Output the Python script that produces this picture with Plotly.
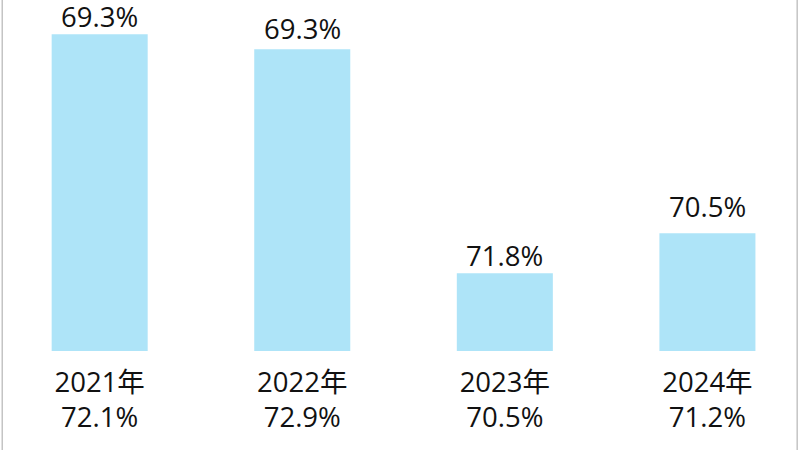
import plotly.graph_objects as go

years = ["2021年", "2022年", "2023年", "2024年"]
bottom_labels = ["72.1%", "72.9%", "70.5%", "71.2%"]
top_labels = ["69.3%", "69.3%", "71.8%", "70.5%"]
bar_heights = [316.7, 301.7, 77.7, 117.7]

# style: vertical pixel offsets of the value labels above each bar
label_shift = [-3, 0, -3, 6]

ticktext = [f"{y}<br>{p}" for y, p in zip(years, bottom_labels)]
xs = list(range(len(years)))

font_family = "Open Sans, Noto Sans CJK SC, sans-serif"

fig = go.Figure(go.Bar(
    x=xs,
    y=bar_heights,
    width=0.474,
    marker=dict(color="#AEE4F8", line=dict(width=0)),
    hoverinfo="skip",
))

annotations = [
    dict(x=x, y=h, xref="x", yref="y", text=t, showarrow=False,
         xanchor="center", yanchor="bottom", yshift=s,
         font=dict(size=27.5, color="#111111", family=font_family))
    for x, h, t, s in zip(xs, bar_heights, top_labels, label_shift)
]

fig.update_layout(
    width=800, height=450,
    margin=dict(l=0, r=0, t=0, b=99),
    paper_bgcolor="white", plot_bgcolor="white",
    showlegend=False,
    annotations=annotations,
    xaxis=dict(
        range=[-0.492, 3.457],
        tickmode="array", tickvals=xs, ticktext=ticktext,
        tickfont=dict(size=27.5, color="#111111", family=font_family),
        ticklabelstandoff=12,
        showgrid=False, zeroline=False, showline=False, ticks="",
    ),
    yaxis=dict(range=[0, 351], visible=False, showgrid=False, zeroline=False),
    shapes=[
        dict(type="line", xref="paper", yref="paper", x0=0.0028, x1=0.0028, y0=-0.3, y1=1.01,
             line=dict(color="#c4c4c4", width=1.5)),
        dict(type="line", xref="paper", yref="paper", x0=0.9965, x1=0.9965, y0=-0.3, y1=1.01,
             line=dict(color="#c4c4c4", width=1.5)),
    ],
)

fig.write_html("out.html", config={"displayModeBar": False},
               post_script="document.body.style.margin='0px';document.body.style.overflow='hidden';")
